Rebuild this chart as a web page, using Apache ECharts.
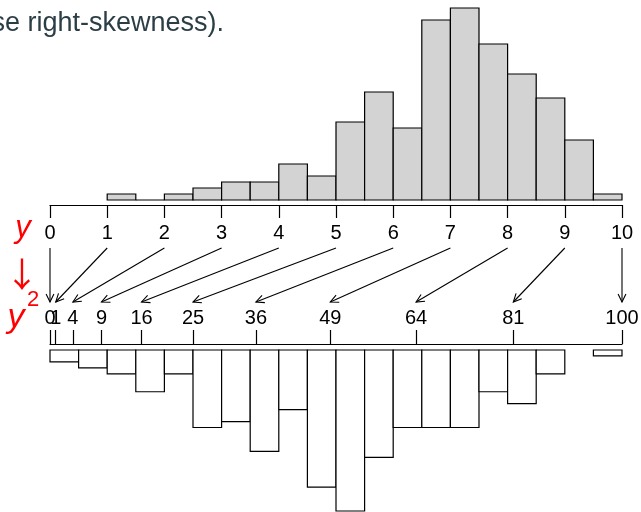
<!DOCTYPE html>
<html>
<head>
<meta charset="utf-8">
<script src="https://cdn.jsdelivr.net/npm/echarts@6/dist/echarts.min.js"></script>
<style>
  html, body { margin: 0; padding: 0; background: #fff; }
  #chart { width: 641px; height: 512px; }
</style>
</head>
<body>
<div id="chart"></div>
<script>
// Histogram of y (bins of width 0.5 starting at 1)
const yBreaks = [1, 1.5, 2, 2.5, 3, 3.5, 4, 4.5, 5, 5.5, 6, 6.5, 7, 7.5, 8, 8.5, 9, 9.5, 10];
const yCounts = [1, 0, 1, 2, 3, 3, 6, 4, 13, 18, 12, 30, 32, 26, 21, 17, 10, 1];

// Histogram of y squared (bins of width 5)
const sqBreaks = [0, 5, 10, 15, 20, 25, 30, 35, 40, 45, 50, 55, 60, 65, 70, 75, 80, 85, 90, 95, 100];
const sqCounts = [2, 3, 4, 7, 4, 13, 12, 17, 10, 23, 27, 18, 13, 13, 13, 7, 9, 4, 0, 1];

// Tick values on the y scale and where they land on the y^2 scale
const yTicks  = [0, 1, 2, 3, 4, 5, 6, 7, 8, 9, 10];
const sqTicks = [0, 1, 4, 9, 16, 25, 36, 49, 64, 81, 100];
// 0 and 1 sit almost on top of each other, so "1" gets its own label layer
const sqCrowded = [1];
const sqSpaced = sqTicks.filter(v => sqCrowded.indexOf(v) < 0);

const FONT = "Liberation Sans";
const INK = '#000';
const RED = '#ff0000';

function binRows(breaks, counts) {
  return counts.map((c, i) => [breaks[i], breaks[i + 1], c]);
}

function histRenderer(fill, skipEmpty) {
  return function (params, api) {
    const x0 = api.value(0), x1 = api.value(1), c = api.value(2);
    if (skipEmpty && c === 0) return null;
    const a = api.coord([x0, 0]);
    const b = api.coord([x1, c]);
    return {
      type: 'rect',
      shape: {
        x: a[0],
        y: Math.min(a[1], b[1]),
        width: b[0] - a[0],
        height: Math.abs(b[1] - a[1])
      },
      style: { fill: fill, stroke: INK, lineWidth: 1.2 }
    };
  };
}

function label(text, x, y, size, opts) {
  return {
    type: 'text', x: x, y: y,
    style: Object.assign({
      text: text, align: 'center', verticalAlign: 'top',
      fontFamily: FONT, fontSize: size, fill: RED
    }, opts || {})
  };
}

const chart = echarts.init(document.getElementById('chart'), null, { renderer: 'canvas' });

const axisText = { fontFamily: FONT, fontSize: 20, color: INK };
const axisLineStyle = { color: INK, width: 1.2 };

chart.setOption({
  animation: false,
  backgroundColor: '#fff',
  grid: [
    { left: 50, width: 572, top: 2, height: 198, outerBoundsMode: 'none' },
    { left: 50, width: 572, top: 350, height: 161, outerBoundsMode: 'none' }
  ],
  xAxis: [
    {
      gridIndex: 0, type: 'value', min: 0, max: 10, interval: 1,
      position: 'bottom', offset: 5,
      axisLine: { show: true, onZero: false, lineStyle: axisLineStyle },
      axisTick: { show: true, length: 13, lineStyle: axisLineStyle },
      axisLabel: Object.assign({ margin: 18, hideOverlap: false, showMinLabel: true, showMaxLabel: true }, axisText),
      splitLine: { show: false }
    },
    {
      gridIndex: 1, type: 'value', min: 0, max: 100,
      position: 'top', offset: 6,
      axisLine: { show: true, onZero: false, lineStyle: axisLineStyle },
      axisTick: { show: true, length: 14, customValues: sqTicks, lineStyle: axisLineStyle },
      axisLabel: Object.assign({ margin: 16, customValues: sqSpaced, hideOverlap: false, showMinLabel: true, showMaxLabel: true }, axisText),
      splitLine: { show: false }
    },
    {
      gridIndex: 1, type: 'value', min: 0, max: 100,
      position: 'top', offset: 6,
      axisLine: { show: false, onZero: false },
      axisTick: { show: false },
      axisLabel: Object.assign({ margin: 16, customValues: sqCrowded, hideOverlap: false, showMinLabel: true, showMaxLabel: true }, axisText),
      splitLine: { show: false }
    }
  ],
  yAxis: [
    { gridIndex: 0, type: 'value', min: 0, max: 33, show: false, splitLine: { show: false } },
    { gridIndex: 1, type: 'value', min: 0, max: 27, inverse: true, show: false, splitLine: { show: false } }
  ],
  graphic: [
    {
      type: 'text', x: 224, y: 10,
      style: {
        text: '(to increase right-skewness).',
        align: 'right', verticalAlign: 'top',
        fontFamily: FONT, fontSize: 27, fill: '#2c3e45'
      }
    },
    label('y', 23, 213, 31, { fontStyle: 'italic' }),
    label('\u2193', 22, 257, 34, { fontFamily: 'Noto Sans CJK SC' }),
    label('y', 16, 301, 34, { fontStyle: 'italic' }),
    label('2', 33, 289, 22)
  ],
  series: [
    {
      type: 'custom', xAxisIndex: 0, yAxisIndex: 0,
      encode: { x: [0, 1], y: 2 },
      data: binRows(yBreaks, yCounts),
      renderItem: histRenderer('#d3d3d3', false),
      silent: true
    },
    {
      type: 'custom', xAxisIndex: 1, yAxisIndex: 1,
      encode: { x: [0, 1], y: 2 },
      data: binRows(sqBreaks, sqCounts),
      renderItem: histRenderer('#ffffff', true),
      silent: true
    }
  ]
});

// Arrows linking each y tick to its square on the lower scale
const ARROW_TOP = 248, ARROW_BOTTOM = 302;
const arrowRows = yTicks.map((t, i) => [
  chart.convertToPixel({ xAxisIndex: 0 }, t),
  chart.convertToPixel({ xAxisIndex: 1 }, sqTicks[i])
]);

chart.setOption({
  series: [
    {}, {},
    {
      type: 'custom', coordinateSystem: 'none',
      data: arrowRows,
      silent: true,
      renderItem: function (params, api) {
        const x0 = api.value(0), x1 = api.value(1);
        const y0 = ARROW_TOP, y1 = ARROW_BOTTOM;
        const ang = Math.atan2(y1 - y0, x1 - x0);
        const len = 9, spread = Math.PI / 7;
        const h1 = [x1 - len * Math.cos(ang - spread), y1 - len * Math.sin(ang - spread)];
        const h2 = [x1 - len * Math.cos(ang + spread), y1 - len * Math.sin(ang + spread)];
        const st = { stroke: INK, lineWidth: 1.1, fill: null };
        return {
          type: 'group',
          children: [
            { type: 'line', shape: { x1: x0, y1: y0, x2: x1, y2: y1 }, style: st },
            { type: 'polyline', shape: { points: [h1, [x1, y1], h2] }, style: st }
          ]
        };
      }
    }
  ]
});
</script>
</body>
</html>
